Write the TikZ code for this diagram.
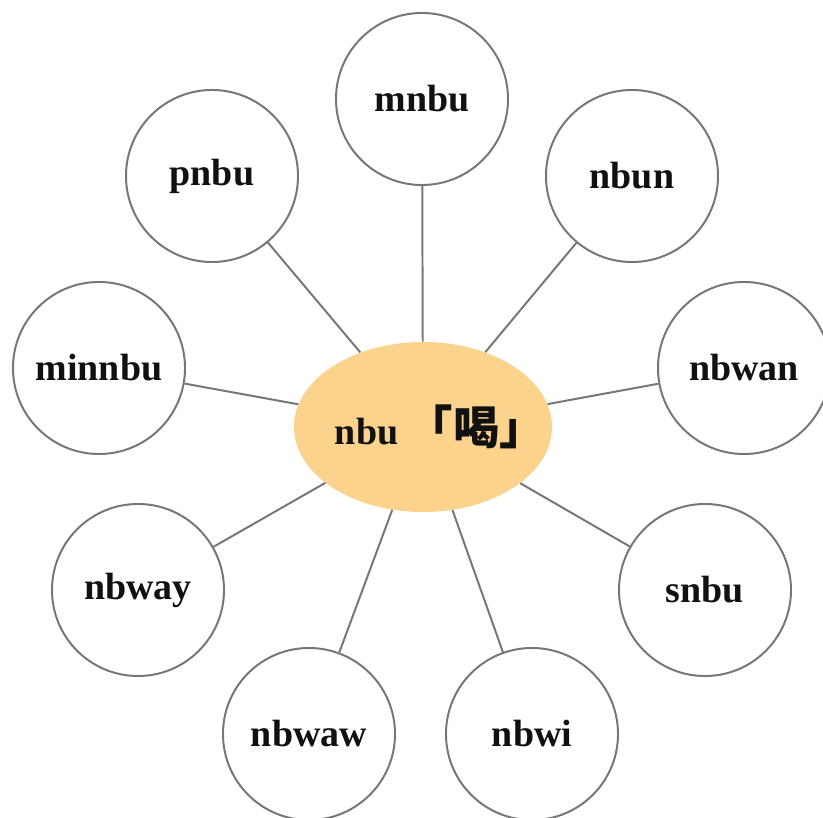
\documentclass[tikz,border=0pt]{standalone}
\usepackage{fontspec}
\setmainfont{Liberation Serif}
\newfontfamily\cjkfont{Noto Sans CJK TC}
\usetikzlibrary{shapes.geometric}
\definecolor{drinkInk}{HTML}{111111}
\definecolor{drinkGray}{HTML}{767676}
\definecolor{drinkGold}{HTML}{FBD38D}
\tikzset{
  every picture/.style={font=\fontsize{27}{32}\selectfont\bfseries, text=drinkInk},
  drink leaf/.style={circle, draw=drinkGray, line width=1.4pt, fill=white,
    minimum size=4.3cm, inner sep=0pt},
  drink hub/.style={ellipse, fill=drinkGold, minimum width=6.45cm,
    minimum height=4.25cm, inner sep=0pt},
  drink link/.style={draw=drinkGray, line width=1.4pt}
}

\begin{document}
\begin{tikzpicture}[x=0.025cm,y=0.025cm]
  \useasboundingbox (0,0) rectangle (823,817);
  % zero-width box so the label does not stretch the ellipse
  \node[drink hub] (hub) at (423,390)
    {\makebox[0pt][l]{\hspace*{-2.2cm}nbu{\cjkfont\fontsize{33}{34}\selectfont\bfseries\kern6pt「喝」}}};
  \node[drink leaf] (mnbu) at (422,718) {mnbu};
  \node[drink leaf] (pnbu) at (212,641) {pnbu};
  \node[drink leaf] (nbun) at (632,641) {nbun};
  \node[drink leaf] (minnbu) at (99,449) {minnbu};
  \node[drink leaf] (nbwan) at (744,449) {nbwan};
  \node[drink leaf] (nbway) at (138,227) {nbway};
  \node[drink leaf] (snbu) at (705,227) {snbu};
  \node[drink leaf] (nbwaw) at (309,83) {nbwaw};
  \node[drink leaf] (nbwi) at (532,83) {nbwi};
  % spokes from the hub out to every word
  \foreach \w in {mnbu,pnbu,nbun,minnbu,nbwan,nbway,snbu,nbwaw,nbwi}
    \draw[drink link] (hub) -- (\w);
\end{tikzpicture}
\end{document}
